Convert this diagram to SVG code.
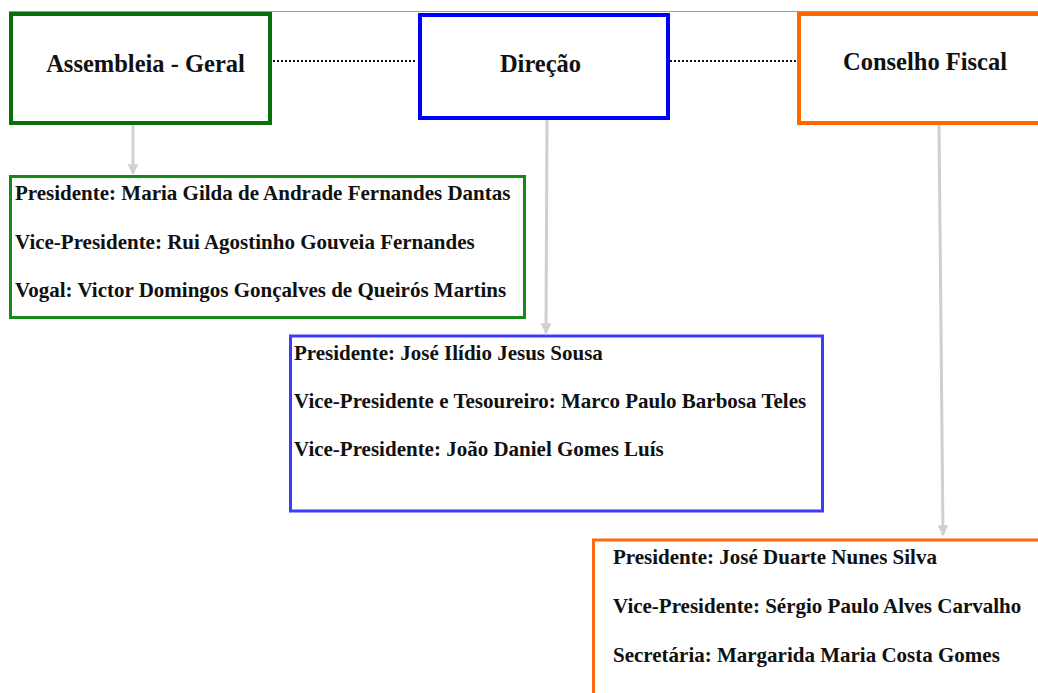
<svg xmlns="http://www.w3.org/2000/svg" width="1038" height="693" viewBox="0 0 1038 693">
  <style>
    .head { font-family: "Liberation Serif", "Times New Roman", serif; font-weight: bold; font-size: 24.5px; fill: #111; text-anchor: middle; }
    .item { font-family: "Liberation Serif", "Times New Roman", serif; font-weight: bold; font-size: 21px; fill: #111; }
    .box { fill: #ffffff; }
    .dots { stroke: #111; stroke-width: 2; stroke-dasharray: 2 2; fill: none; }
    .link { stroke: #d0d0d0; stroke-width: 3; fill: none; marker-end: url(#arrow); }
  </style>
  <defs>
    <marker id="arrow" viewBox="0 0 10 10" refX="9" refY="5" markerWidth="3.6" markerHeight="3.6" orient="auto" markerUnits="strokeWidth">
      <path d="M0,0 L10,5 L0,10 z" fill="#d0d0d0"/>
    </marker>
  </defs>

  <rect width="1038" height="693" fill="#ffffff"/>
  <!-- thin page rule along the top -->
  <line x1="9" y1="11.5" x2="1038" y2="11.5" stroke="#9a9a9a" stroke-width="1"/>

  <g id="connectors">
    <line class="dots" x1="273" y1="61" x2="417" y2="61"/>
    <line class="dots" x1="670" y1="61" x2="797" y2="61"/>
    <line class="link" x1="133" y1="125" x2="133" y2="174"/>
    <line class="link" x1="547" y1="120" x2="546" y2="333"/>
    <line class="link" x1="939" y1="125" x2="943" y2="535"/>
  </g>

  <g id="assembleia">
    <rect class="box" x="11" y="14" width="259" height="109" stroke="#0a6e0a" stroke-width="4"/>
    <text class="head" x="145.5" y="72">Assembleia - Geral</text>
  </g>

  <g id="direcao">
    <rect class="box" x="420" y="15" width="248" height="103" stroke="#0000ff" stroke-width="4"/>
    <text class="head" x="540.5" y="72">Direção</text>
  </g>

  <g id="conselho-fiscal">
    <rect class="box" x="799" y="14" width="250" height="109" stroke="#ff6600" stroke-width="4"/>
    <text class="head" x="925" y="70">Conselho Fiscal</text>
  </g>

  <g id="assembleia-membros">
    <rect class="box" x="10.5" y="176.5" width="514" height="141" stroke="#158a15" stroke-width="3"/>
    <text class="item" x="15" y="200">Presidente: Maria Gilda de Andrade Fernandes Dantas</text>
    <text class="item" x="15" y="249">Vice-Presidente: Rui Agostinho Gouveia Fernandes</text>
    <text class="item" x="15" y="297">Vogal: Victor Domingos Gonçalves de Queirós Martins</text>
  </g>

  <g id="direcao-membros">
    <rect class="box" x="290.5" y="336" width="532" height="175" stroke="#3c3cff" stroke-width="3"/>
    <text class="item" x="294" y="360">Presidente: José Ilídio Jesus Sousa</text>
    <text class="item" x="294" y="408">Vice-Presidente e Tesoureiro: Marco Paulo Barbosa Teles</text>
    <text class="item" x="294" y="456">Vice-Presidente: João Daniel Gomes Luís</text>
  </g>

  <g id="conselho-fiscal-membros">
    <rect class="box" x="593.5" y="540" width="460" height="170" stroke="#ff6a10" stroke-width="3"/>
    <text class="item" x="613" y="564">Presidente: José Duarte Nunes Silva</text>
    <text class="item" x="613" y="613">Vice-Presidente: Sérgio Paulo Alves Carvalho</text>
    <text class="item" x="613" y="662">Secretária: Margarida Maria Costa Gomes</text>
  </g>
</svg>
